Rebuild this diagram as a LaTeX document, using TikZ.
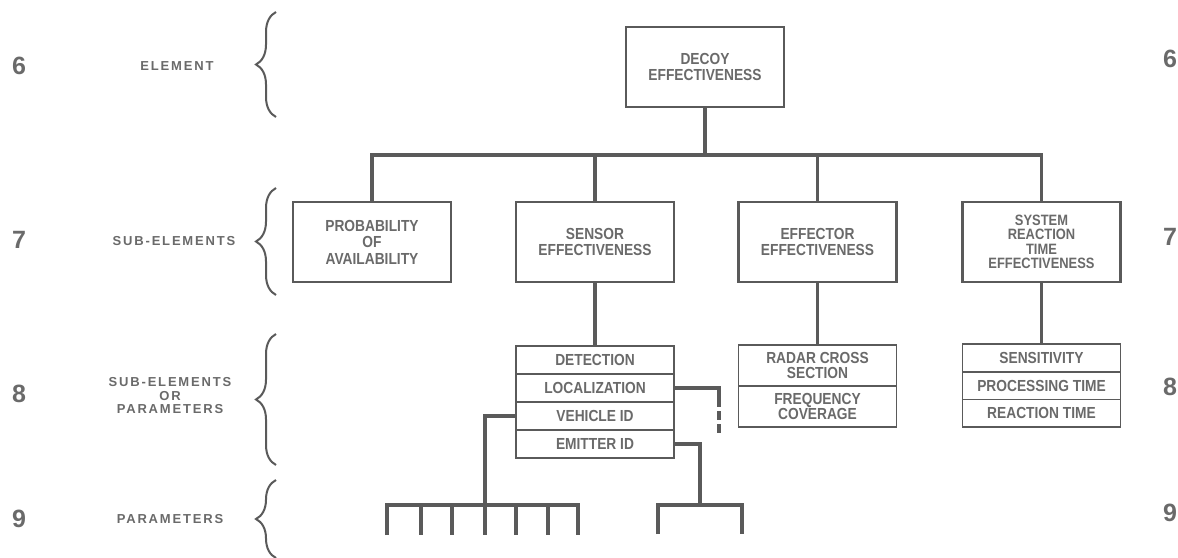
\documentclass[tikz,border=0pt]{standalone}
\usepackage{fontspec}
\setmainfont{Liberation Sans}
\newfontfamily\boxfont{Liberation Sans}[FakeStretch=0.86]
\newfontfamily\sidefont{Liberation Sans}[LetterSpace=14]
\usetikzlibrary{positioning,decorations.pathreplacing}

\definecolor{inkgray}{HTML}{5A5A5A}
\definecolor{textgray}{HTML}{6A6A6A}

\tikzset{
	block/.style={draw=inkgray, line width=2.2pt, fill=white, minimum width=158pt, minimum height=80pt,
		inner sep=0pt, outer sep=0pt, align=center, text=textgray, font=\boxfont\bfseries\fontsize{16}{16.5}\selectfont},
	cell/.style={draw=inkgray, line width=1.8pt, fill=white, minimum width=158pt, minimum height=28pt,
		inner sep=0pt, outer sep=0pt, align=center, text=textgray, font=\boxfont\bfseries\fontsize{16}{15.5}\selectfont},
	link/.style={draw=inkgray, line width=3.2pt},
	levelbrace/.style={decorate, decoration={brace, amplitude=20pt}, draw=inkgray, line width=2pt},
	levelnum/.style={text=textgray, font=\bfseries\fontsize{25}{25}\selectfont},
	levelname/.style={text=textgray, align=center, font=\sidefont\bfseries\fontsize{13}{13.5}\selectfont}
}

\begin{document}
\begin{tikzpicture}[x=1pt, y=-1pt]
	\path[use as bounding box, fill=white] (0,0) rectangle (1178,557);

	%Element
	\node[block] (decoy) at (705,67) {DECOY\\EFFECTIVENESS};

	%Sub-elements
	\node[block] (prob) at (372,242) {PROBABILITY\\OF\\AVAILABILITY};
	\node[block] (sensor) at (595,242) {SENSOR\\EFFECTIVENESS};
	\node[block] (effector) at (817.5,242) {EFFECTOR\\EFFECTIVENESS};
	\node[block, font=\boxfont\bfseries\fontsize{15}{14.5}\selectfont] (sysreact) at (1041.5,242)
		{SYSTEM\\REACTION\\TIME\\EFFECTIVENESS};

	%Sub-elements or parameters
	\node[cell] (det) at (595,360) {DETECTION};
	\node[cell, below=0pt of det] (loc) {LOCALIZATION};
	\node[cell, below=0pt of loc] (veh) {VEHICLE ID};
	\node[cell, below=0pt of veh] (emit) {EMITTER ID};

	\node[cell, minimum height=41pt] (rcs) at (817.5,365.5) {RADAR CROSS\\SECTION};
	\node[cell, minimum height=41pt, below=0pt of rcs] (freq) {FREQUENCY\\COVERAGE};

	\node[cell, minimum height=27.7pt] (sens) at (1041.5,358) {SENSITIVITY};
	\node[cell, minimum height=27.7pt, below=0pt of sens] (proc) {PROCESSING TIME};
	\node[cell, minimum height=27.7pt, below=0pt of proc] (react) {REACTION TIME};

	%Tree lines
	\coordinate (bus) at (705,155);
	\draw[link] (decoy) -- (bus);
	\draw[link] (prob.north) |- (sysreact.north |- bus) -- (sysreact.north);
	\foreach \col in {sensor, effector}{
		\draw[link] (\col.north) -- (\col.north |- bus);
	}
	\draw[link] (sensor) -- (det);
	\draw[link] (effector) -- (rcs);
	\draw[link] (sysreact) -- (sens);

	%Parameters
	\coordinate (locbend) at (719,407);
	\coordinate (locend) at (719,434);
	\draw[link] (loc.east) -| (locbend);
	\draw[link, dash pattern=on 9pt off 4pt, dash phase=9pt] (locbend) -- (locend);

	\foreach \xpos [count=\i] in {387,421,452,485,516,548,578}{
		\coordinate (lp\i) at (\xpos,505);
	}
	\draw[link] (veh.west) -| (lp4);
	\draw[link] (lp1) ++(0,30) -- (lp1) -- (lp7) -- ++(0,30);
	\foreach \i in {2,...,6}{
		\draw[link] (lp\i) -- ++(0,30);
	}

	\coordinate (rp1) at (658,505);
	\coordinate (rp2) at (742,505);
	\coordinate (rpmid) at (700,505);
	\draw[link] (emit.east) -| (rpmid);
	\draw[link] (rp1) ++(0,29) -- (rp1) -- (rp2) -- ++(0,29);

	%Level numbers
	\foreach \lvl/\ypos in {6/66, 7/240, 8/394, 9/519}{
		\node[levelnum] (numL\lvl) at (19,\ypos) {\lvl};
	}
	\foreach \lvl/\ypos in {6/59, 7/237, 8/387, 9/513}{
		\node[levelnum] (numR\lvl) at (1170,\ypos) {\lvl};
	}

	%Level names
	\node[levelname] (nameEl) at (177,66) {ELEMENT};
	\node[levelname] (nameSub) at (174,241) {SUB-ELEMENTS};
	\node[levelname] (nameSubPar) at (170,396) {SUB-ELEMENTS\\OR\\PARAMETERS};
	\node[levelname] (namePar) at (170,519) {PARAMETERS};

	%Braces
	\draw[levelbrace] (276,117) -- (276,12);
	\draw[levelbrace] (276,295) -- (276,188);
	\draw[levelbrace] (276,465) -- (276,334);
	\draw[levelbrace] (276,558) -- (276,480);

\end{tikzpicture}
\end{document}
